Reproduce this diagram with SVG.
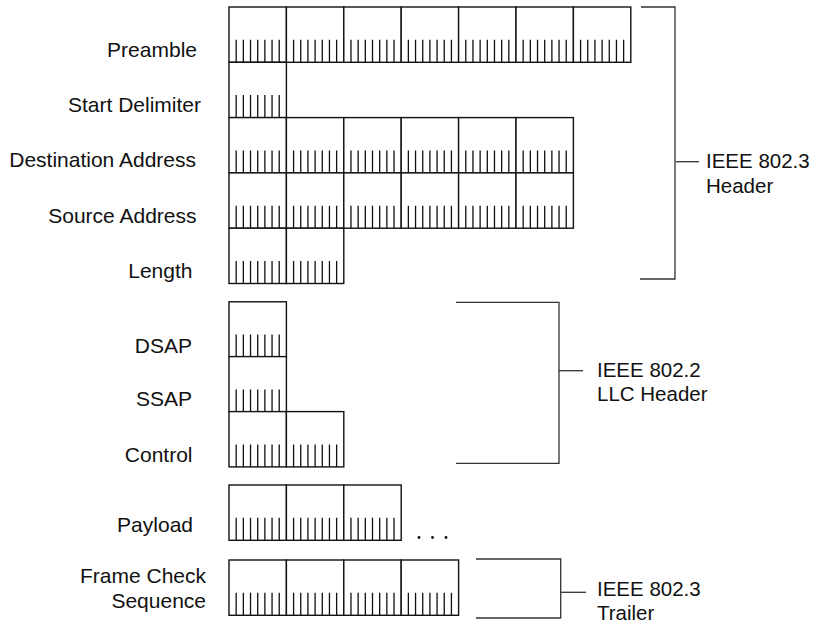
<svg xmlns="http://www.w3.org/2000/svg" xmlns:xlink="http://www.w3.org/1999/xlink" width="815" height="623" viewBox="0 0 815 623">
<style>
  .lbl { font-family: "Liberation Sans", Arial, sans-serif; font-size: 21px; fill: #111; }
  .lbl2 { font-family: "Liberation Sans", Arial, sans-serif; font-size: 20.5px; fill: #111; }
  .cell { fill: #fff; stroke: #111; stroke-width: 1.4; }
  .tk { stroke: #111; stroke-width: 1.3; fill: none; }
  .br { stroke: #333; stroke-width: 1.3; fill: none; }
</style>
<defs>
  <g id="c">
    <rect class="cell" x="0" y="0" width="57.4" height="55.3"/>
    <path class="tk" d="M7.175,32.8V55.3M14.35,32.8V55.3M21.525,32.8V55.3M28.7,32.8V55.3M35.875,32.8V55.3M43.05,32.8V55.3M50.225,32.8V55.3"/>
  </g>
</defs>
<rect width="815" height="623" fill="#fff"/>

<g id="preamble">
  <text class="lbl" x="197" y="56.5" text-anchor="end">Preamble</text>
  <use xlink:href="#c" x="229" y="7"/><use xlink:href="#c" x="286.4" y="7"/><use xlink:href="#c" x="343.8" y="7"/><use xlink:href="#c" x="401.2" y="7"/><use xlink:href="#c" x="458.6" y="7"/><use xlink:href="#c" x="516" y="7"/><use xlink:href="#c" x="573.4" y="7"/>
</g>
<g id="start-delimiter">
  <text class="lbl" x="201" y="111.7" text-anchor="end">Start Delimiter</text>
  <use xlink:href="#c" x="229" y="62.3"/>
</g>
<g id="destination-address">
  <text class="lbl" x="196" y="167" text-anchor="end">Destination Address</text>
  <use xlink:href="#c" x="229" y="117.6"/><use xlink:href="#c" x="286.4" y="117.6"/><use xlink:href="#c" x="343.8" y="117.6"/><use xlink:href="#c" x="401.2" y="117.6"/><use xlink:href="#c" x="458.6" y="117.6"/><use xlink:href="#c" x="516" y="117.6"/>
</g>
<g id="source-address">
  <text class="lbl" x="196.5" y="222.5" text-anchor="end">Source Address</text>
  <use xlink:href="#c" x="229" y="172.9"/><use xlink:href="#c" x="286.4" y="172.9"/><use xlink:href="#c" x="343.8" y="172.9"/><use xlink:href="#c" x="401.2" y="172.9"/><use xlink:href="#c" x="458.6" y="172.9"/><use xlink:href="#c" x="516" y="172.9"/>
</g>
<g id="length">
  <text class="lbl" x="192.5" y="277.5" text-anchor="end">Length</text>
  <use xlink:href="#c" x="229" y="228.2"/><use xlink:href="#c" x="286.4" y="228.2"/>
</g>

<g id="dsap">
  <text class="lbl" x="192" y="353" text-anchor="end">DSAP</text>
  <use xlink:href="#c" x="229" y="301.8"/>
</g>
<g id="ssap">
  <text class="lbl" x="192" y="406" text-anchor="end">SSAP</text>
  <use xlink:href="#c" x="229" y="356.6"/>
</g>
<g id="control">
  <text class="lbl" x="192.5" y="461.5" text-anchor="end">Control</text>
  <use xlink:href="#c" x="229" y="411.6"/><use xlink:href="#c" x="286.4" y="411.6"/>
</g>

<g id="payload">
  <text class="lbl" x="193" y="532" text-anchor="end">Payload</text>
  <use xlink:href="#c" x="229" y="485"/><use xlink:href="#c" x="286.4" y="485"/><use xlink:href="#c" x="343.8" y="485"/>
  <circle cx="419" cy="537.5" r="1.4" fill="#111"/><circle cx="432.5" cy="537.5" r="1.4" fill="#111"/><circle cx="446" cy="537.5" r="1.4" fill="#111"/>
</g>
<g id="fcs">
  <text class="lbl" x="206" y="583" text-anchor="end">Frame Check</text>
  <text class="lbl" x="206" y="608" text-anchor="end">Sequence</text>
  <use xlink:href="#c" x="229" y="560"/><use xlink:href="#c" x="286.4" y="560"/><use xlink:href="#c" x="343.8" y="560"/><use xlink:href="#c" x="401.2" y="560"/>
</g>

<g id="connectors">
  <path class="br" d="M641,7H675V279H640"/>
  <path class="br" d="M676,161.7H699"/>
  <path class="br" d="M456,302.3H559V463.3H456"/>
  <path class="br" d="M559,370.7H583"/>
  <path class="br" d="M476,559H560.7V618H476"/>
  <path class="br" d="M561,592.3H586"/>
</g>

<g id="ieee-8023-header">
  <text class="lbl2" x="706" y="168">IEEE 802.3</text>
  <text class="lbl2" x="706" y="193">Header</text>
</g>
<g id="ieee-8022-llc">
  <text class="lbl2" x="597" y="377">IEEE 802.2</text>
  <text class="lbl2" x="597" y="400.5">LLC Header</text>
</g>
<g id="ieee-8023-trailer">
  <text class="lbl2" x="597" y="596">IEEE 802.3</text>
  <text class="lbl2" x="597" y="619.5">Trailer</text>
</g>
</svg>
